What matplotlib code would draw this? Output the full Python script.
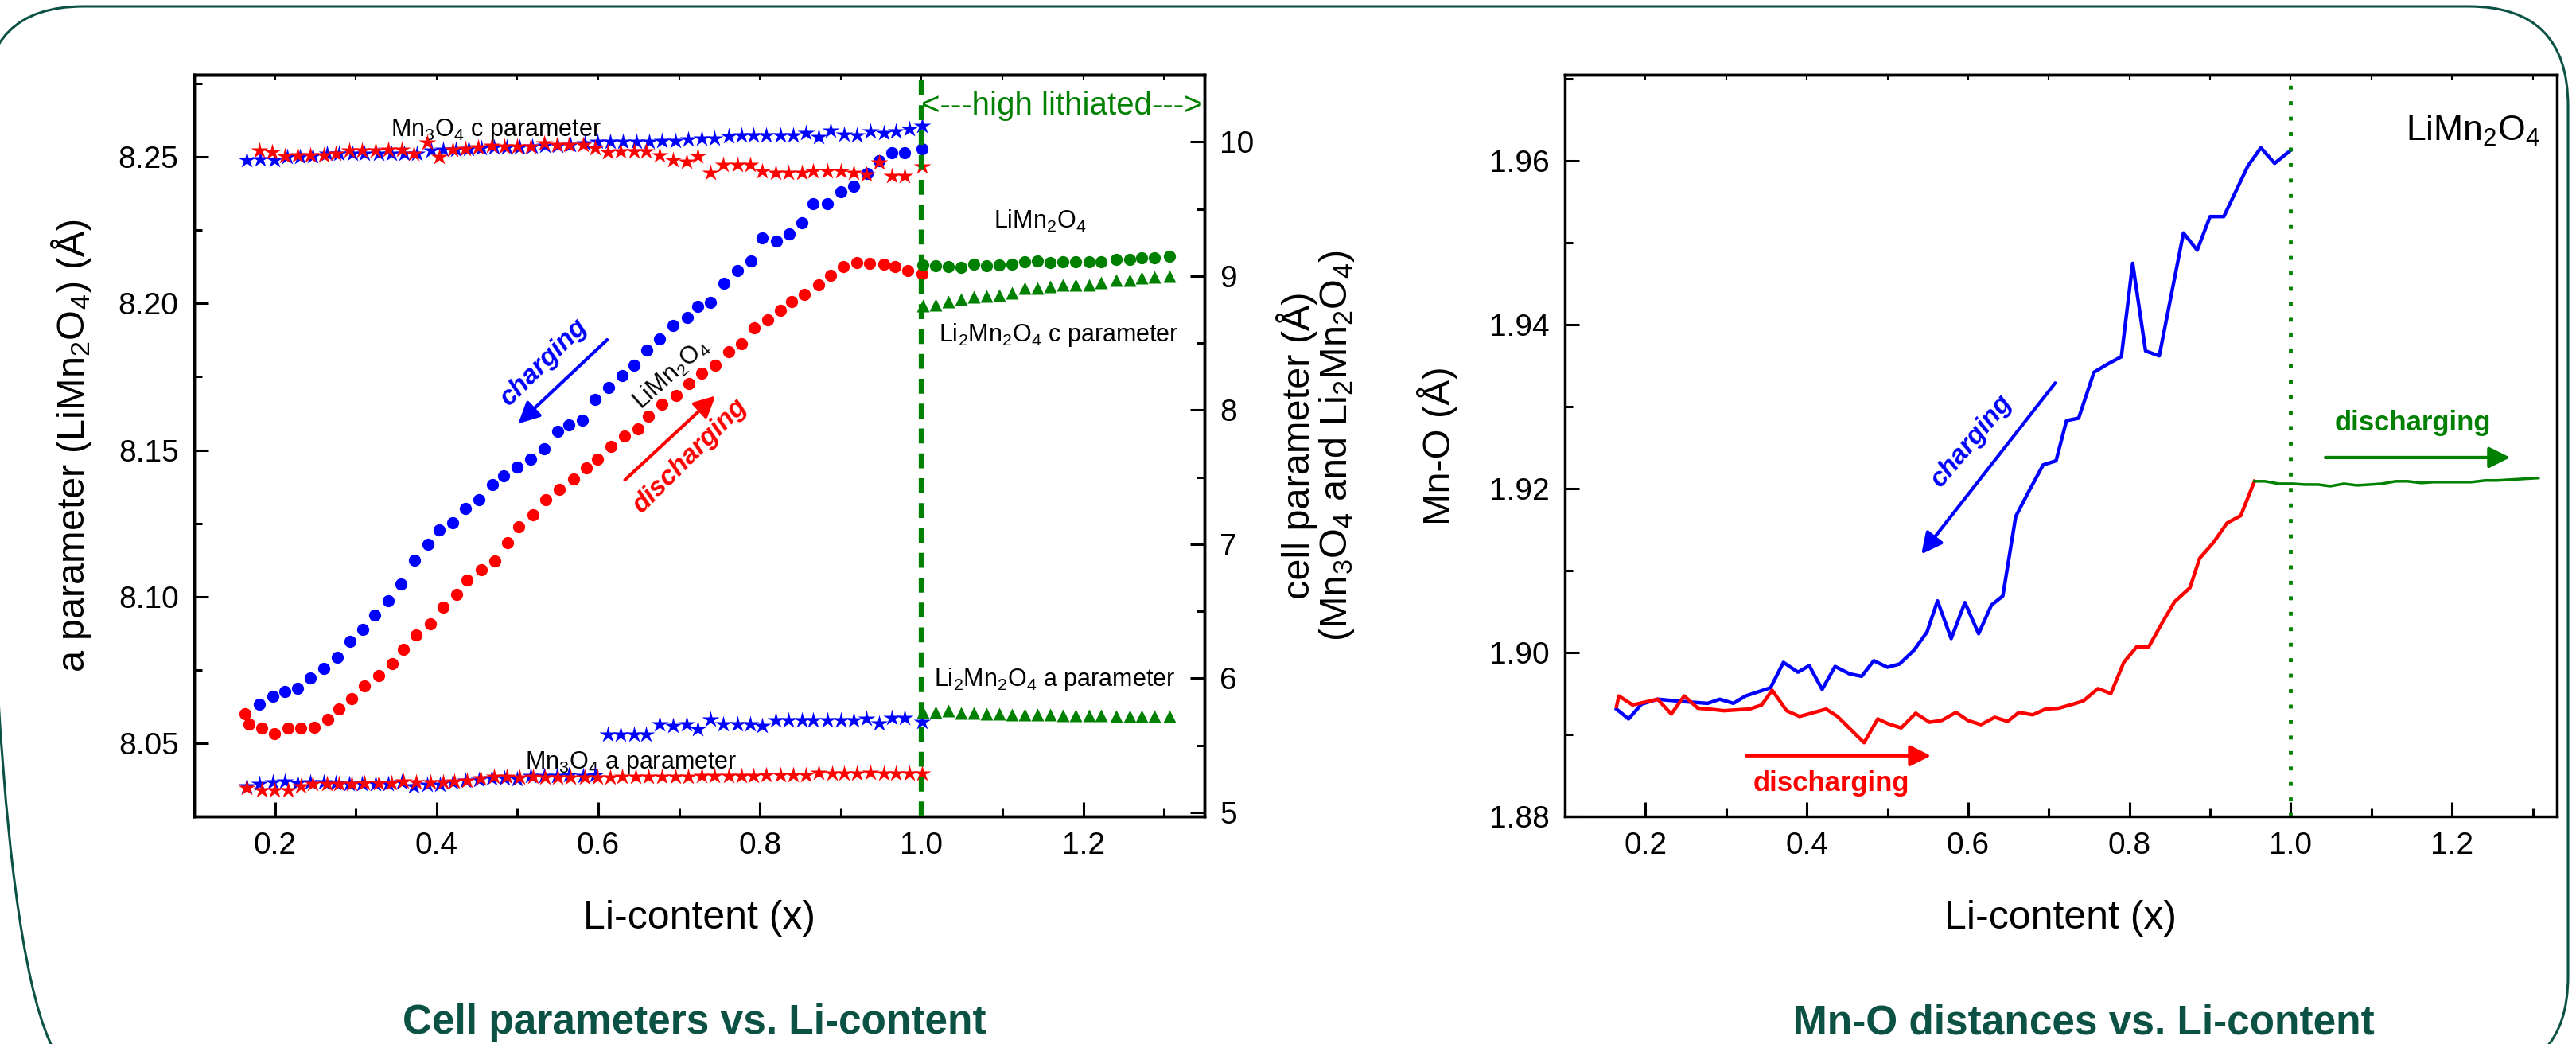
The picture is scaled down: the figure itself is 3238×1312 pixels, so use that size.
import matplotlib
matplotlib.use("Agg")
import matplotlib.pyplot as plt
from matplotlib.patches import FancyBboxPatch
from matplotlib.transforms import IdentityTransform
from matplotlib.ticker import MultipleLocator, NullFormatter

plt.rcParams['font.family'] = ['Liberation Sans', 'DejaVu Sans']
plt.rcParams['mathtext.default'] = 'regular'

BLUE = '#0000ff'
RED = '#ff0000'
GREEN = '#008000'
DARK_TEAL = '#0b5244'

# ---------------- left panel data ----------------
# LiMn2O4 a parameter (left axis)
lmo_charge_x = [0.181, 0.197, 0.212, 0.228, 0.244, 0.260, 0.277, 0.293, 0.309, 0.323,
                0.340, 0.356, 0.373, 0.389, 0.403, 0.420, 0.436, 0.452, 0.469, 0.483,
                0.500, 0.516, 0.533, 0.550, 0.564, 0.580, 0.596, 0.613, 0.630, 0.644,
                0.660, 0.676, 0.693, 0.710, 0.723, 0.739, 0.756, 0.772, 0.789, 0.803,
                0.820, 0.836, 0.852, 0.866, 0.883, 0.900, 0.916, 0.933, 0.947, 0.963,
                0.979, 1.001]
lmo_charge_a = [8.0632, 8.0659, 8.0675, 8.0688, 8.0721, 8.0755, 8.0793, 8.0847, 8.0887, 8.0936,
                8.0987, 8.1043, 8.1124, 8.1178, 8.1226, 8.1253, 8.1301, 8.1331, 8.1382, 8.1411,
                8.1441, 8.1468, 8.1505, 8.1565, 8.1586, 8.1602, 8.1672, 8.1712, 8.1753, 8.1790,
                8.1841, 8.1879, 8.1925, 8.1952, 8.1989, 8.2003, 8.2070, 8.2113, 8.2145, 8.2223,
                8.2212, 8.2237, 8.2274, 8.2339, 8.2339, 8.2382, 8.2401, 8.2444, 8.2487, 8.2513,
                8.2513, 8.2527]

lmo_dis_x = [0.163, 0.168, 0.184, 0.199, 0.216, 0.232, 0.249, 0.265, 0.279, 0.295,
             0.311, 0.328, 0.345, 0.359, 0.375, 0.392, 0.408, 0.425, 0.438, 0.455,
             0.472, 0.488, 0.502, 0.519, 0.535, 0.552, 0.569, 0.585, 0.599, 0.616,
             0.632, 0.649, 0.662, 0.679, 0.696, 0.712, 0.728, 0.745, 0.761, 0.777,
             0.793, 0.810, 0.825, 0.839, 0.855, 0.873, 0.887, 0.903, 0.920, 0.936,
             0.953, 0.967, 0.983, 1.001]
lmo_dis_a = [8.0600, 8.0565, 8.0551, 8.0532, 8.0551, 8.0551, 8.0554, 8.0581, 8.0616, 8.0651,
             8.0696, 8.0731, 8.0772, 8.0820, 8.0868, 8.0906, 8.0965, 8.1008, 8.1057, 8.1091,
             8.1121, 8.1183, 8.1237, 8.1280, 8.1331, 8.1366, 8.1401, 8.1438, 8.1468, 8.1511,
             8.1548, 8.1573, 8.1616, 8.1656, 8.1686, 8.1726, 8.1763, 8.1790, 8.1836, 8.1863,
             8.1917, 8.1944, 8.1976, 8.2005, 8.2032, 8.2062, 8.2097, 8.2126, 8.2140, 8.2137,
             8.2134, 8.2126, 8.2113, 8.2102]

# high lithiated region (x > 1)
hi_x = [1.002, 1.017, 1.033, 1.049, 1.065, 1.080, 1.096, 1.112, 1.128, 1.143,
        1.159, 1.175, 1.191, 1.207, 1.222, 1.241, 1.257, 1.272, 1.288, 1.307]
hi_lmo_a = [8.2131, 8.2128, 8.2126, 8.2123, 8.2134, 8.2128, 8.2131, 8.2134, 8.2141, 8.2146,
            8.2138, 8.2141, 8.2141, 8.2141, 8.2141, 8.2149, 8.2149, 8.2157, 8.2157, 8.2162]
li2_c = [8.781, 8.788, 8.808, 8.825, 8.842, 8.852, 8.859, 8.876, 8.910, 8.910,
         8.923, 8.933, 8.933, 8.933, 8.950, 8.967, 8.967, 8.984, 8.994, 9.001]
li2_a = [5.745, 5.750, 5.760, 5.740, 5.740, 5.735, 5.735, 5.730, 5.730, 5.730,
         5.730, 5.725, 5.725, 5.725, 5.725, 5.720, 5.720, 5.720, 5.720, 5.720]

# Mn3O4 parameters (right axis)
mn3o4_c_charge_x = [0.165, 0.182, 0.199, 0.215, 0.231, 0.247, 0.264, 0.279, 0.296, 0.311,
                    0.328, 0.344, 0.360, 0.376, 0.393, 0.408, 0.424, 0.440, 0.455, 0.471,
                    0.487, 0.503, 0.518, 0.534, 0.550, 0.566, 0.583, 0.599, 0.615, 0.631,
                    0.647, 0.663, 0.679, 0.695, 0.711, 0.728, 0.744, 0.761, 0.777, 0.792,
                    0.808, 0.825, 0.841, 0.857, 0.873, 0.887, 0.904, 0.920, 0.937, 0.953,
                    0.968, 0.985, 1.001]
mn3o4_c_charge = [9.866, 9.870, 9.866, 9.886, 9.886, 9.892, 9.910, 9.910, 9.910, 9.912,
                  9.912, 9.912, 9.915, 9.912, 9.935, 9.945, 9.945, 9.949, 9.955, 9.961,
                  9.961, 9.961, 9.965, 9.969, 9.971, 9.975, 9.990, 10.004, 10.004, 10.004,
                  10.004, 10.004, 10.010, 10.010, 10.018, 10.024, 10.024, 10.043, 10.047, 10.047,
                  10.047, 10.047, 10.047, 10.069, 10.037, 10.083, 10.057, 10.047, 10.077, 10.067,
                  10.077, 10.096, 10.122]

mn3o4_c_dis_x = [0.181, 0.196, 0.212, 0.228, 0.244, 0.260, 0.275, 0.292, 0.308, 0.324,
                 0.340, 0.357, 0.372, 0.388, 0.403, 0.420, 0.436, 0.451, 0.468, 0.484,
                 0.500, 0.516, 0.533, 0.549, 0.564, 0.581, 0.596, 0.612, 0.628, 0.644,
                 0.659, 0.676, 0.693, 0.709, 0.723, 0.739, 0.755, 0.772, 0.788, 0.803,
                 0.819, 0.835, 0.852, 0.866, 0.883, 0.900, 0.916, 0.932, 0.947, 0.963,
                 0.979, 1.001]
mn3o4_c_dis = [9.935, 9.925, 9.892, 9.900, 9.900, 9.900, 9.915, 9.939, 9.939, 9.935,
               9.945, 9.945, 9.915, 9.998, 9.886, 9.945, 9.949, 9.959, 9.969, 9.965,
               9.965, 9.965, 9.988, 9.975, 9.975, 9.975, 9.955, 9.925, 9.929, 9.929,
               9.929, 9.900, 9.866, 9.856, 9.892, 9.768, 9.827, 9.827, 9.827, 9.782,
               9.768, 9.768, 9.768, 9.782, 9.782, 9.782, 9.768, 9.758, 9.847, 9.748,
               9.748, 9.817]

mn3o4_a_charge_x = [0.165, 0.181, 0.197, 0.212, 0.228, 0.244, 0.260, 0.275, 0.292, 0.308,
                    0.324, 0.340, 0.357, 0.372, 0.388, 0.404, 0.420, 0.436, 0.452, 0.468,
                    0.484, 0.500, 0.516, 0.533, 0.549, 0.564, 0.581, 0.596, 0.612, 0.628,
                    0.644, 0.659, 0.676, 0.693, 0.709, 0.723, 0.739, 0.755, 0.772, 0.788,
                    0.803, 0.819, 0.835, 0.852, 0.866, 0.883, 0.900, 0.916, 0.932, 0.947,
                    0.963, 0.979, 1.001]
mn3o4_a_charge = [5.196, 5.215, 5.225, 5.231, 5.219, 5.225, 5.225, 5.219, 5.215, 5.211,
                  5.211, 5.211, 5.225, 5.196, 5.206, 5.206, 5.225, 5.235, 5.245, 5.255,
                  5.255, 5.251, 5.270, 5.274, 5.274, 5.278, 5.274, 5.280, 5.579, 5.579,
                  5.579, 5.579, 5.658, 5.648, 5.658, 5.624, 5.691, 5.658, 5.658, 5.658,
                  5.648, 5.687, 5.687, 5.687, 5.687, 5.687, 5.687, 5.687, 5.697, 5.664,
                  5.707, 5.707, 5.677]

mn3o4_a_dis_x = [0.165, 0.184, 0.199, 0.216, 0.232, 0.247, 0.264, 0.279, 0.295, 0.311,
                 0.328, 0.344, 0.359, 0.375, 0.392, 0.408, 0.422, 0.438, 0.454, 0.471,
                 0.487, 0.503, 0.519, 0.534, 0.550, 0.566, 0.583, 0.599, 0.615, 0.630,
                 0.646, 0.662, 0.679, 0.695, 0.711, 0.728, 0.744, 0.761, 0.777, 0.792,
                 0.808, 0.825, 0.841, 0.857, 0.873, 0.889, 0.904, 0.920, 0.937, 0.953,
                 0.968, 0.985, 1.001]
mn3o4_a_dis = [5.186, 5.166, 5.166, 5.166, 5.196, 5.211, 5.211, 5.211, 5.211, 5.219,
               5.219, 5.219, 5.231, 5.225, 5.225, 5.225, 5.231, 5.235, 5.255, 5.265,
               5.265, 5.261, 5.265, 5.261, 5.261, 5.261, 5.261, 5.261, 5.261, 5.265,
               5.265, 5.265, 5.268, 5.268, 5.268, 5.274, 5.274, 5.274, 5.274, 5.274,
               5.280, 5.280, 5.280, 5.280, 5.294, 5.290, 5.290, 5.290, 5.294, 5.290,
               5.290, 5.290, 5.290]

# ---------------- right panel data ----------------
mno_charge_x = [0.164, 0.179, 0.195, 0.215, 0.249, 0.277, 0.292, 0.309, 0.324, 0.355,
                0.371, 0.389, 0.403, 0.419, 0.435, 0.453, 0.468, 0.483, 0.500, 0.515,
                0.533, 0.549, 0.562, 0.579, 0.596, 0.613, 0.629, 0.643, 0.659, 0.676,
                0.693, 0.709, 0.722, 0.737, 0.756, 0.773, 0.790, 0.804, 0.820, 0.837,
                0.867, 0.884, 0.900, 0.917, 0.931, 0.947, 0.963, 0.980, 1.000]
mno_charge = [1.8931, 1.8919, 1.8937, 1.8943, 1.8940, 1.8938, 1.8943, 1.8938, 1.8947, 1.8957,
              1.8988, 1.8976, 1.8984, 1.8955, 1.8983, 1.8974, 1.8971, 1.8990, 1.8982, 1.8986,
              1.9003, 1.9025, 1.9063, 1.9017, 1.9061, 1.9023, 1.9058, 1.9069, 1.9166, 1.9198,
              1.9229, 1.9234, 1.9283, 1.9286, 1.9342, 1.9352, 1.9361, 1.9475, 1.9368, 1.9362,
              1.9512, 1.9491, 1.9532, 1.9532, 1.9561, 1.9594, 1.9616, 1.9597, 1.9613]

mno_dis_x = [0.164, 0.167, 0.184, 0.215, 0.232, 0.248, 0.265, 0.279, 0.297, 0.329,
             0.344, 0.357, 0.375, 0.391, 0.424, 0.438, 0.471, 0.488, 0.501, 0.517,
             0.535, 0.552, 0.567, 0.585, 0.600, 0.616, 0.633, 0.649, 0.663, 0.680,
             0.696, 0.712, 0.730, 0.743, 0.761, 0.777, 0.793, 0.809, 0.824, 0.841,
             0.856, 0.875, 0.887, 0.904, 0.921, 0.938, 0.955]
mno_dis = [1.8934, 1.8947, 1.8936, 1.8943, 1.8925, 1.8947, 1.8932, 1.8931, 1.8929, 1.8931,
           1.8936, 1.8954, 1.8929, 1.8922, 1.8931, 1.8922, 1.8890, 1.8919, 1.8913, 1.8908,
           1.8926, 1.8915, 1.8917, 1.8927, 1.8917, 1.8912, 1.8921, 1.8916, 1.8927, 1.8924,
           1.8931, 1.8932, 1.8937, 1.8941, 1.8956, 1.8950, 1.8988, 1.9007, 1.9007, 1.9037,
           1.9062, 1.9079, 1.9115, 1.9134, 1.9158, 1.9167, 1.9209]

mno_hi_x = [0.955, 0.968, 0.985, 1.002, 1.017, 1.034, 1.049, 1.066, 1.082, 1.098,
            1.113, 1.130, 1.145, 1.162, 1.177, 1.194, 1.209, 1.224, 1.241, 1.256,
            1.273, 1.290, 1.307]
mno_hi = [1.9209, 1.9209, 1.9206, 1.9206, 1.9205, 1.9205, 1.9203, 1.9206, 1.9204, 1.9205,
          1.9206, 1.9209, 1.9209, 1.9207, 1.9208, 1.9208, 1.9208, 1.9208, 1.9210, 1.9210,
          1.9211, 1.9212, 1.9213]

# ---------------- figure ----------------
W, H = 3238, 1312
fig = plt.figure(figsize=(W / 100, H / 100), dpi=100)

ax1 = fig.add_axes([244 / W, 1 - 1026 / H, 1270 / W, 932 / H])
ax2 = ax1.twinx()
ax3 = fig.add_axes([1967 / W, 1 - 1026 / H, 1247 / W, 932 / H])

TICK_FS = 28
LABEL_FS = 35
NOTE_FS = 22


def style_axis(ax):
    for sp in ax.spines.values():
        sp.set_linewidth(2.5)
    ax.tick_params(which='major', direction='in', length=13, width=2.2,
                   labelsize=TICK_FS, pad=14)
    ax.tick_params(which='minor', direction='in', length=7, width=2.2)


def top_ticks(ax):
    # tiny inward ticks along the top frame
    top = ax.secondary_xaxis('top')
    top.xaxis.set_major_locator(MultipleLocator(0.1))
    top.xaxis.set_major_formatter(NullFormatter())
    top.tick_params(direction='in', length=4, width=1.5)
    top.spines['top'].set_linewidth(2.5)


# left panel, LiMn2O4 a parameter on left axis
ax1.plot(lmo_charge_x, lmo_charge_a, 'o', color=BLUE, ms=11, mec='none')
ax1.plot(lmo_dis_x, lmo_dis_a, 'o', color=RED, ms=11, mec='none')
ax1.plot(hi_x, hi_lmo_a, 'o', color=GREEN, ms=11, mec='none')
ax1.set_xlim(0.1, 1.35)
ax1.set_ylim(8.025, 8.278)
ax1.xaxis.set_major_locator(MultipleLocator(0.2))
ax1.xaxis.set_minor_locator(MultipleLocator(0.1))
ax1.yaxis.set_major_locator(MultipleLocator(0.05))
ax1.yaxis.set_minor_locator(MultipleLocator(0.025))
ax1.xaxis.set_major_formatter(plt.FormatStrFormatter('%.1f'))
ax1.yaxis.set_major_formatter(plt.FormatStrFormatter('%.2f'))
style_axis(ax1)
top_ticks(ax1)
ax1.set_xlabel('Li-content (x)', fontsize=36, labelpad=36)
ax1.set_ylabel('a parameter (LiMn$_2$O$_4$) (Å)', fontsize=LABEL_FS, labelpad=22)

# cell parameters on right axis
ax2.plot(mn3o4_c_charge_x, mn3o4_c_charge, '*', color=BLUE, ms=16, mec='none')
ax2.plot(mn3o4_c_dis_x, mn3o4_c_dis, '*', color=RED, ms=16, mec='none')
ax2.plot(mn3o4_a_charge_x, mn3o4_a_charge, '*', color=BLUE, ms=16, mec='none')
ax2.plot(mn3o4_a_dis_x, mn3o4_a_dis, '*', color=RED, ms=16, mec='none')
ax2.plot(hi_x, li2_c, '^', color=GREEN, ms=12, mec='none')
ax2.plot(hi_x, li2_a, '^', color=GREEN, ms=12, mec='none')
ax2.set_ylim(4.97, 10.5)
ax2.yaxis.set_major_locator(MultipleLocator(1))
ax2.yaxis.set_minor_locator(MultipleLocator(0.5))
style_axis(ax2)
ax2.set_ylabel('cell parameter (Å)\n(Mn$_3$O$_4$ and Li$_2$Mn$_2$O$_4$)',
               fontsize=LABEL_FS, labelpad=20, linespacing=1.0)

ax2.axvline(1.0, color=GREEN, lw=4.5, ls=(0, (3, 2)), zorder=5)
ax2.text(1.0, 0.958, '<---high lithiated--->', transform=ax2.get_xaxis_transform(),
         color=GREEN, fontsize=29, ha='left', va='center')

ax1.text(0.343, 8.259, 'Mn$_3$O$_4$ c parameter', fontsize=NOTE_FS, va='center')
ax1.text(0.509, 8.0433, 'Mn$_3$O$_4$ a parameter', fontsize=NOTE_FS, va='center')
ax2.text(1.089, 9.41, 'LiMn$_2$O$_4$', fontsize=NOTE_FS, va='center')
ax2.text(1.021, 8.56, 'Li$_2$Mn$_2$O$_4$ c parameter', fontsize=NOTE_FS, va='center')
ax2.text(1.015, 5.99, 'Li$_2$Mn$_2$O$_4$ a parameter', fontsize=NOTE_FS, va='center')
ax1.text(0.69, 8.176, 'LiMn$_2$O$_4$', fontsize=NOTE_FS, rotation=42,
         ha='center', va='center', rotation_mode='anchor')

ax1.annotate('', xy=(0.501, 8.159), xytext=(0.611, 8.1876),
             arrowprops=dict(arrowstyle='-|>', color=BLUE, lw=3, mutation_scale=40,
                             shrinkA=0, shrinkB=0))
ax1.text(0.533, 8.180, 'charging', color=BLUE, fontsize=24, fontweight='bold',
         fontstyle='italic', rotation=45, ha='center', va='center', rotation_mode='anchor')
ax1.annotate('', xy=(0.745, 8.1685), xytext=(0.633, 8.1398),
             arrowprops=dict(arrowstyle='-|>', color=RED, lw=3, mutation_scale=40,
                             shrinkA=0, shrinkB=0))
ax1.text(0.713, 8.148, 'discharging', color=RED, fontsize=24, fontweight='bold',
         fontstyle='italic', rotation=45, ha='center', va='center', rotation_mode='anchor')

# right panel, Mn-O distances
ax3.plot(mno_charge_x, mno_charge, '-', color=BLUE, lw=3.2)
ax3.plot(mno_dis_x, mno_dis, '-', color=RED, lw=3.2)
ax3.plot(mno_hi_x, mno_hi, '-', color=GREEN, lw=2.5)
ax3.axvline(1.0, color=GREEN, lw=3.5, ls=(0, (1, 3)))
ax3.set_xlim(0.1, 1.33)
ax3.set_ylim(1.88, 1.9705)
ax3.xaxis.set_major_locator(MultipleLocator(0.2))
ax3.xaxis.set_minor_locator(MultipleLocator(0.1))
ax3.yaxis.set_major_locator(MultipleLocator(0.02))
ax3.yaxis.set_minor_locator(MultipleLocator(0.01))
ax3.xaxis.set_major_formatter(plt.FormatStrFormatter('%.1f'))
ax3.yaxis.set_major_formatter(plt.FormatStrFormatter('%.2f'))
style_axis(ax3)
top_ticks(ax3)
ax3.set_xlabel('Li-content (x)', fontsize=36, labelpad=36)
ax3.set_ylabel('Mn-O (Å)', fontsize=LABEL_FS, labelpad=28)

ax3.text(1.143, 1.9637, 'LiMn$_2$O$_4$', fontsize=32, va='center')
ax3.annotate('', xy=(0.542, 1.912), xytext=(0.708, 1.9329),
             arrowprops=dict(arrowstyle='-|>', color=BLUE, lw=3, mutation_scale=40,
                             shrinkA=0, shrinkB=0))
ax3.text(0.604, 1.9258, 'charging', color=BLUE, fontsize=24, fontweight='bold',
         fontstyle='italic', rotation=50, ha='center', va='center', rotation_mode='anchor')
ax3.annotate('', xy=(0.554, 1.8874), xytext=(0.325, 1.8874),
             arrowprops=dict(arrowstyle='-|>', color=RED, lw=3, mutation_scale=40,
                             shrinkA=0, shrinkB=0))
ax3.text(0.43, 1.884, 'discharging', color=RED, fontsize=25, fontweight='bold',
         ha='center', va='center')
ax3.annotate('', xy=(1.272, 1.9238), xytext=(1.043, 1.9238),
             arrowprops=dict(arrowstyle='-|>', color=GREEN, lw=3, mutation_scale=40,
                             shrinkA=0, shrinkB=0))
ax3.text(1.151, 1.928, 'discharging', color=GREEN, fontsize=25, fontweight='bold',
         ha='center', va='center')

# panel captions
fig.text(873 / W, 1 - 1286 / H, 'Cell parameters vs. Li-content', ha='center', va='center',
         fontsize=37, fontweight='bold', color=DARK_TEAL)
fig.text(2619 / W, 1 - 1286 / H, 'Mn-O distances vs. Li-content', ha='center', va='center',
         fontsize=37, fontweight='bold', color=DARK_TEAL)

# rounded frame around the whole slide
frame = FancyBboxPatch((-20, -40), 3248, 1344, boxstyle='round,pad=0,rounding_size=125',
                       transform=IdentityTransform(), fill=False, edgecolor=DARK_TEAL,
                       linewidth=2.2, clip_on=False)
fig.add_artist(frame)

fig.savefig('out.png', dpi=100)
